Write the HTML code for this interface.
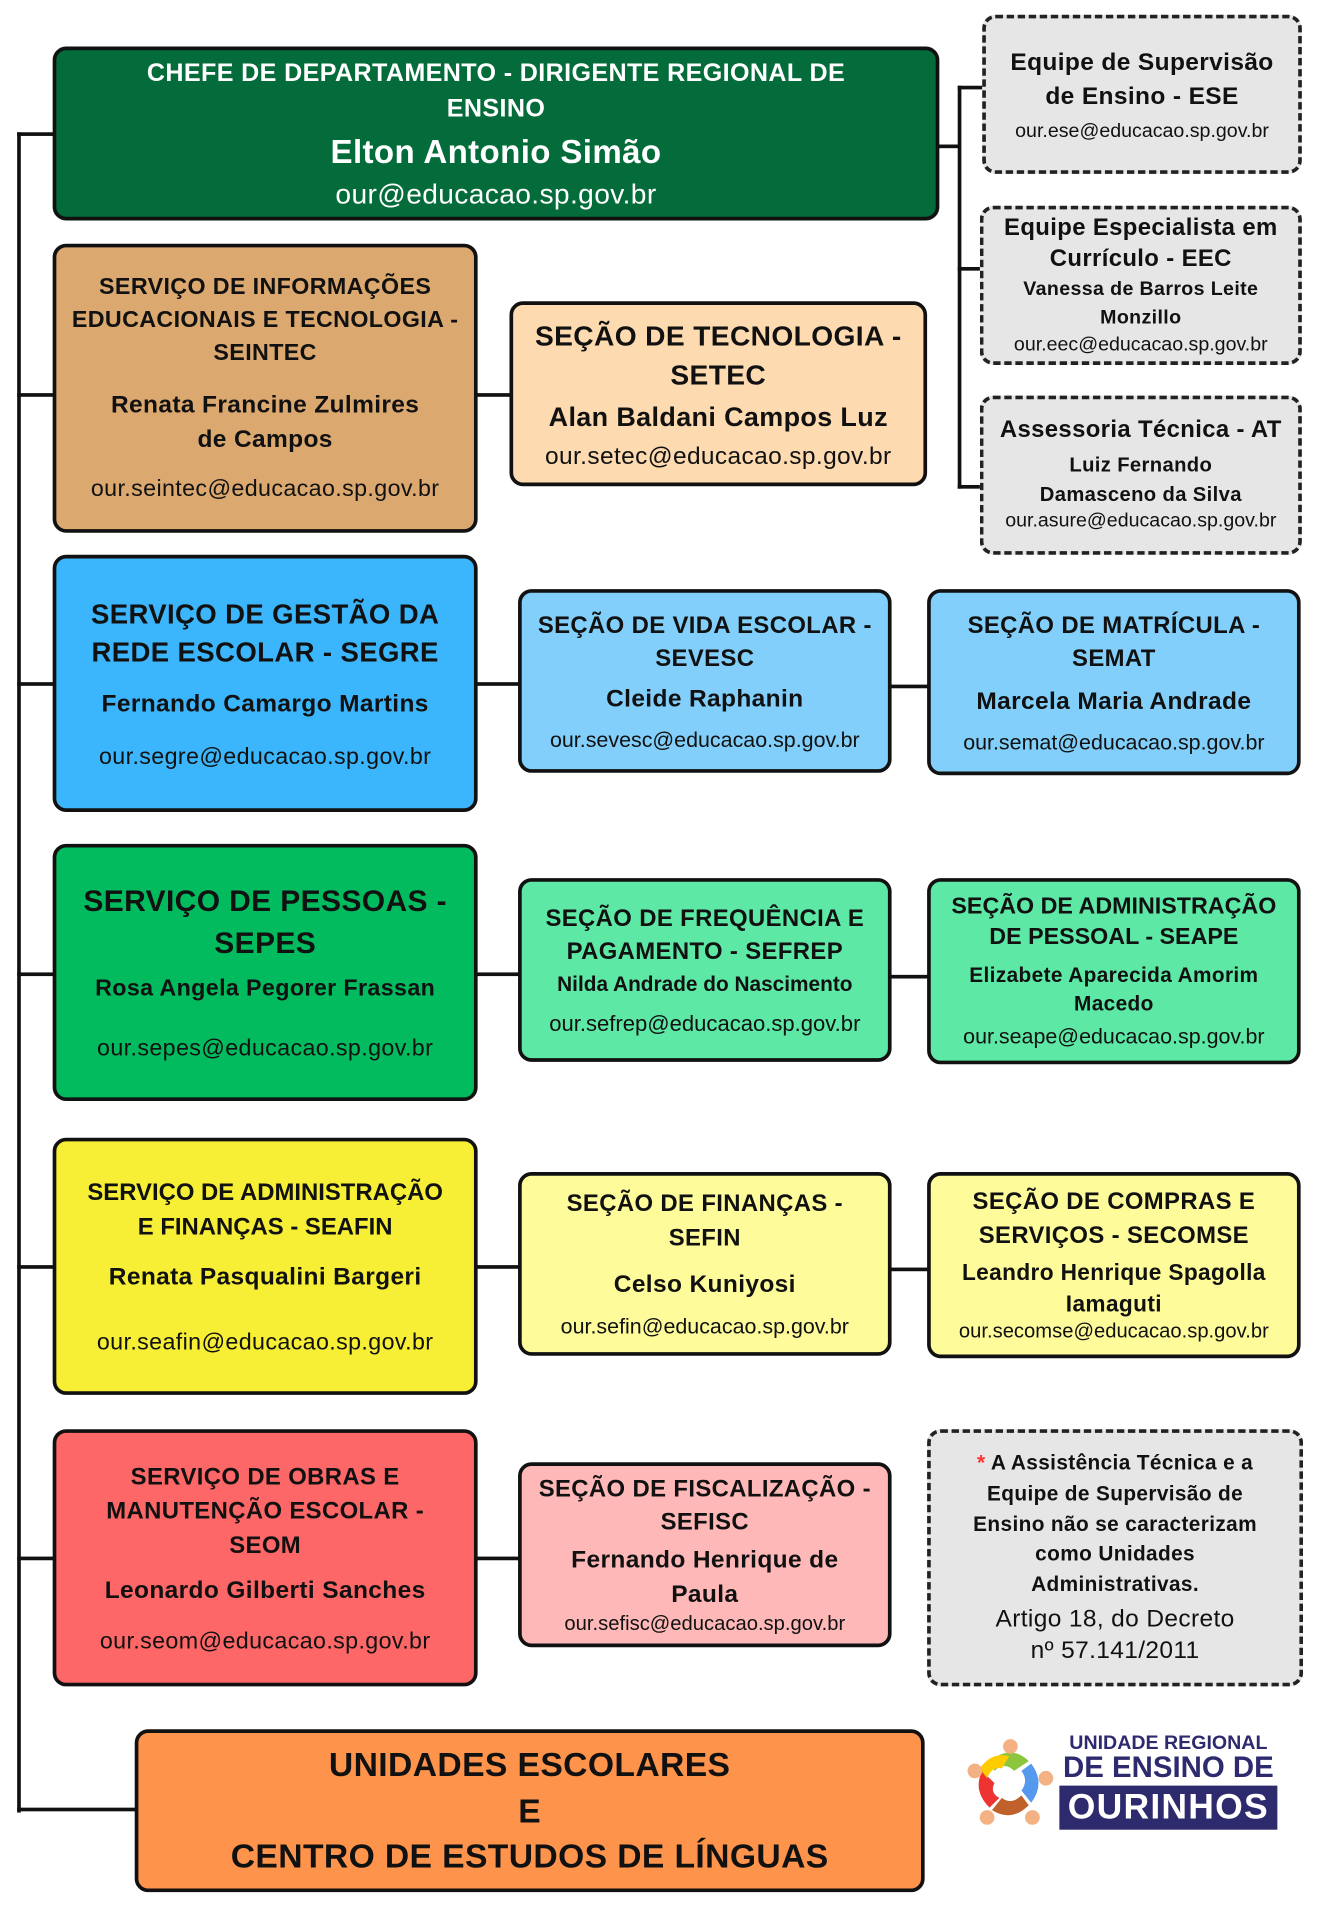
<!DOCTYPE html>
<html><head><meta charset="utf-8"><style>
html,body{margin:0;padding:0;background:#fff;}
body{width:1332px;height:1920px;overflow:hidden;position:relative;}
#w{position:absolute;left:0;top:0;width:1080px;height:1557px;transform:scale(1.2247);transform-origin:0 0;font-family:"Liberation Sans",sans-serif;letter-spacing:0.3px;}
.b{position:absolute;box-sizing:border-box;border:3px solid #111;border-radius:11px;display:flex;flex-direction:column;justify-content:center;align-items:center;text-align:center;color:#111;line-height:1.18;white-space:nowrap;}
.d{border:3px dashed #222;background:#e6e6e6;}
.t{font-weight:bold;}
.l{position:absolute;background:#111;}
</style></head><body><div id="w">
<div class="l" style="left:14px;top:108px;width:3px;height:1372px"></div>
<div class="l" style="left:14px;top:108px;width:30px;height:3px"></div>
<div class="l" style="left:14px;top:321px;width:30px;height:3px"></div>
<div class="l" style="left:14px;top:557px;width:30px;height:3px"></div>
<div class="l" style="left:14px;top:794px;width:30px;height:3px"></div>
<div class="l" style="left:14px;top:1033px;width:30px;height:3px"></div>
<div class="l" style="left:14px;top:1271px;width:30px;height:3px"></div>
<div class="l" style="left:14px;top:1476px;width:97px;height:3px"></div>
<div class="l" style="left:765px;top:118px;width:19px;height:3px"></div>
<div class="l" style="left:782px;top:70px;width:3px;height:329px"></div>
<div class="l" style="left:782px;top:70px;width:20px;height:3px"></div>
<div class="l" style="left:782px;top:218px;width:20px;height:3px"></div>
<div class="l" style="left:782px;top:396px;width:20px;height:3px"></div>
<div class="l" style="left:389px;top:321px;width:28px;height:3px"></div>
<div class="l" style="left:389px;top:557px;width:35px;height:3px"></div>
<div class="l" style="left:727px;top:559px;width:31px;height:3px"></div>
<div class="l" style="left:389px;top:794px;width:35px;height:3px"></div>
<div class="l" style="left:727px;top:796px;width:31px;height:3px"></div>
<div class="l" style="left:389px;top:1033px;width:35px;height:3px"></div>
<div class="l" style="left:727px;top:1035px;width:31px;height:3px"></div>
<div class="l" style="left:389px;top:1271px;width:35px;height:3px"></div>

<div class="b" style="left:43px;top:38px;width:724px;height:142px;background:#036c3a;color:#fff">
<div class="t" style="font-size:20.5px;line-height:1.4">CHEFE DE DEPARTAMENTO - DIRIGENTE REGIONAL DE<br>ENSINO</div>
<div class="t" style="font-size:27px;margin-top:6px">Elton Antonio Simão</div>
<div style="font-size:23px;margin-top:4px">our@educacao.sp.gov.br</div></div>

<div class="b d" style="left:802px;top:12px;width:261px;height:130px">
<div class="t" style="font-size:20px;line-height:1.4">Equipe de Supervisão<br>de Ensino - ESE</div>
<div style="font-size:16px;margin-top:6px;letter-spacing:0">our.ese@educacao.sp.gov.br</div></div>
<div class="b d" style="left:800px;top:168px;width:263px;height:130px">
<div class="t" style="font-size:19.5px;line-height:1.3">Equipe Especialista em<br>Currículo - EEC</div>
<div class="t" style="font-size:16px;line-height:1.45">Vanessa de Barros Leite<br>Monzillo</div>
<div style="font-size:16px;margin-top:2px;letter-spacing:0">our.eec@educacao.sp.gov.br</div></div>
<div class="b d" style="left:800px;top:323px;width:263px;height:130px">
<div class="t" style="font-size:19.5px">Assessoria Técnica - AT</div>
<div class="t" style="font-size:16.5px;margin-top:6px;line-height:1.45">Luiz Fernando<br>Damasceno da Silva</div>
<div style="font-size:16px;letter-spacing:0">our.asure@educacao.sp.gov.br</div></div>

<div class="b" style="left:43px;top:199px;width:347px;height:236px;background:#dba870">
<div class="t" style="font-size:19px;line-height:1.42">SERVIÇO DE INFORMAÇÕES<br>EDUCACIONAIS E TECNOLOGIA -<br>SEINTEC</div>
<div class="t" style="font-size:20px;margin-top:14px;line-height:1.4">Renata Francine Zulmires<br>de Campos</div>
<div style="font-size:19px;margin-top:16px">our.seintec@educacao.sp.gov.br</div></div>
<div class="b" style="left:416px;top:246px;width:341px;height:151px;background:#fddab0">
<div class="t" style="font-size:23px;line-height:1.4">SEÇÃO DE TECNOLOGIA -<br>SETEC</div>
<div class="t" style="font-size:22px;margin-top:6px">Alan Baldani Campos Luz</div>
<div style="font-size:20px;margin-top:8px">our.setec@educacao.sp.gov.br</div></div>

<div class="b" style="left:43px;top:453px;width:347px;height:210px;background:#3bb5fb">
<div class="t" style="font-size:22.5px;line-height:1.38">SERVIÇO DE GESTÃO DA<br>REDE ESCOLAR - SEGRE</div>
<div class="t" style="font-size:20px;margin-top:16px">Fernando Camargo Martins</div>
<div style="font-size:19px;margin-top:20px">our.segre@educacao.sp.gov.br</div></div>
<div class="b" style="left:423px;top:481px;width:305px;height:150px;background:#81cffa">
<div class="t" style="font-size:19.5px;line-height:1.4">SEÇÃO DE VIDA ESCOLAR -<br>SEVESC</div>
<div class="t" style="font-size:20px;margin-top:8px">Cleide Raphanin</div>
<div style="font-size:17.5px;margin-top:10px;letter-spacing:0">our.sevesc@educacao.sp.gov.br</div></div>
<div class="b" style="left:757px;top:481px;width:305px;height:152px;background:#81cffa">
<div class="t" style="font-size:19.5px;line-height:1.4">SEÇÃO DE MATRÍCULA -<br>SEMAT</div>
<div class="t" style="font-size:20px;margin-top:10px">Marcela Maria Andrade</div>
<div style="font-size:17.5px;margin-top:10px;letter-spacing:0">our.semat@educacao.sp.gov.br</div></div>

<div class="b" style="left:43px;top:689px;width:347px;height:210px;background:#02bb5e">
<div class="t" style="font-size:24.5px;line-height:1.38">SERVIÇO DE PESSOAS -<br>SEPES</div>
<div class="t" style="font-size:19px;margin-top:10px">Rosa Angela Pegorer Frassan</div>
<div style="font-size:19px;margin-top:26px">our.sepes@educacao.sp.gov.br</div></div>
<div class="b" style="left:423px;top:717px;width:305px;height:150px;background:#5de8a6">
<div class="t" style="font-size:19.5px;line-height:1.38">SEÇÃO DE FREQUÊNCIA E<br>PAGAMENTO - SEFREP</div>
<div class="t" style="font-size:17px;margin-top:3px;letter-spacing:0">Nilda Andrade do Nascimento</div>
<div style="font-size:18px;margin-top:12px;letter-spacing:0">our.sefrep@educacao.sp.gov.br</div></div>
<div class="b" style="left:757px;top:717px;width:305px;height:152px;background:#5de8a6">
<div class="t" style="font-size:19px;line-height:1.3;letter-spacing:0">SEÇÃO DE ADMINISTRAÇÃO<br>DE PESSOAL - SEAPE</div>
<div class="t" style="font-size:17px;margin-top:6px;line-height:1.4">Elizabete Aparecida Amorim<br>Macedo</div>
<div style="font-size:17.5px;margin-top:4px;letter-spacing:0">our.seape@educacao.sp.gov.br</div></div>

<div class="b" style="left:43px;top:929px;width:347px;height:210px;background:#f6ef35">
<div class="t" style="font-size:19.5px;line-height:1.45;letter-spacing:0">SERVIÇO DE ADMINISTRAÇÃO<br>E FINANÇAS - SEAFIN</div>
<div class="t" style="font-size:20px;margin-top:16px">Renata Pasqualini Bargeri</div>
<div style="font-size:19px;margin-top:30px">our.seafin@educacao.sp.gov.br</div></div>
<div class="b" style="left:423px;top:957px;width:305px;height:150px;background:#fefb9a">
<div class="t" style="font-size:19.5px;line-height:1.42">SEÇÃO DE FINANÇAS -<br>SEFIN</div>
<div class="t" style="font-size:20px;margin-top:12px">Celso Kuniyosi</div>
<div style="font-size:17.5px;margin-top:12px;letter-spacing:0">our.sefin@educacao.sp.gov.br</div></div>
<div class="b" style="left:757px;top:957px;width:305px;height:152px;background:#fefb9a">
<div class="t" style="font-size:19.5px;line-height:1.42">SEÇÃO DE COMPRAS E<br>SERVIÇOS - SECOMSE</div>
<div class="t" style="font-size:18.5px;line-height:1.42;margin-top:2px">Leandro Henrique Spagolla<br>Iamaguti</div>
<div style="font-size:16.5px;letter-spacing:0">our.secomse@educacao.sp.gov.br</div></div>

<div class="b" style="left:43px;top:1167px;width:347px;height:210px;background:#fe6767">
<div class="t" style="font-size:19.5px;line-height:1.45">SERVIÇO DE OBRAS E<br>MANUTENÇÃO ESCOLAR -<br>SEOM</div>
<div class="t" style="font-size:20px;margin-top:12px">Leonardo Gilberti Sanches</div>
<div style="font-size:19px;margin-top:18px">our.seom@educacao.sp.gov.br</div></div>
<div class="b" style="left:423px;top:1194px;width:305px;height:151px;background:#feb8b8">
<div class="t" style="font-size:19.5px;line-height:1.42">SEÇÃO DE FISCALIZAÇÃO -<br>SEFISC</div>
<div class="t" style="font-size:20px;line-height:1.42;margin-top:2px">Fernando Henrique de<br>Paula</div>
<div style="font-size:16.5px;letter-spacing:0">our.sefisc@educacao.sp.gov.br</div></div>
<div class="b d" style="left:757px;top:1167px;width:307px;height:210px">
<div class="t" style="font-size:17px;line-height:1.45"><span style="color:#f33">*</span> A Assistência Técnica e a<br>Equipe de Supervisão de<br>Ensino não se caracterizam<br>como Unidades<br>Administrativas.</div>
<div style="font-size:20px;line-height:1.3;margin-top:2px">Artigo 18, do Decreto<br>nº 57.141/2011</div></div>

<div class="b" style="left:110px;top:1412px;width:645px;height:133px;background:#fe944c">
<div class="t" style="font-size:27.5px;line-height:1.38">UNIDADES ESCOLARES<br>E<br>CENTRO DE ESTUDOS DE LÍNGUAS</div></div>

<svg style="position:absolute;left:788px;top:1416px" width="75" height="78" viewBox="0 0 75 78">
<path d="M20 22 Q38 8 52 22 L40 30 Q32 22 24 30Z" fill="#8cc63f"/>
<path d="M54 24 Q66 40 54 56 L46 46 Q52 38 46 30Z" fill="#5599ee"/>
<path d="M52 58 Q38 72 22 62 L30 52 Q38 58 46 50Z" fill="#c0612c"/>
<path d="M20 60 Q6 46 14 30 L24 40 Q20 48 28 52Z" fill="#ee3333"/>
<path d="M12 28 Q22 14 36 18 L30 28 Q22 26 18 36Z" fill="#ffcc00"/>
<circle cx="37" cy="10" r="6" fill="#f4b183"/><circle cx="66" cy="36" r="6" fill="#f4b183"/>
<circle cx="55" cy="68" r="6" fill="#f4b183"/><circle cx="18" cy="68" r="6" fill="#f4b183"/><circle cx="8" cy="30" r="6" fill="#f4b183"/>
</svg>
<div style="position:absolute;left:865px;top:1415px;width:178px;color:#2e2a6e;font-weight:bold;text-align:center;letter-spacing:0">
<div style="font-size:16px;line-height:17px">UNIDADE REGIONAL</div>
<div style="font-size:24px;line-height:24px">DE ENSINO DE</div>
<div style="background:#2e2a6e;color:#fff;font-size:29px;line-height:36px;margin-top:2px;letter-spacing:1px">OURINHOS</div>
</div>
</div></body></html>
